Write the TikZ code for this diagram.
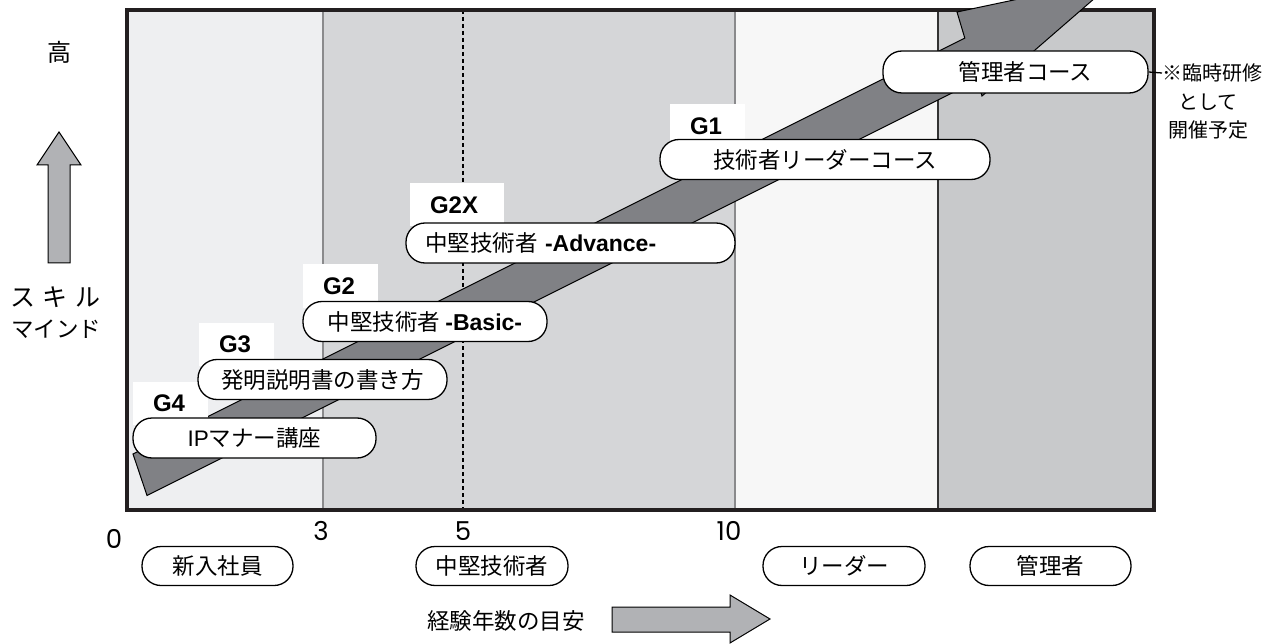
\documentclass[tikz,border=0pt]{standalone}
\usepackage{fontspec}
\setmainfont{Noto Sans CJK JP}
\newfontfamily\lat{Liberation Sans}
\newfontfamily\numf{Poppins}
\definecolor{bandA}{HTML}{EEEFF1}
\definecolor{bandB}{HTML}{D5D6D8}
\definecolor{bandC}{HTML}{F7F7F7}
\definecolor{bandD}{HTML}{C8C9CB}
\definecolor{arrowDark}{HTML}{808185}
\definecolor{arrowLight}{HTML}{B1B2B5}
\definecolor{frameC}{HTML}{231F20}
\definecolor{divC}{HTML}{8A8A8C}
\newcommand\latb[1]{{\lat\bfseries\fontsize{23}{27}\selectfont #1}}
\begin{document}
\begin{tikzpicture}[x=1pt,y=-1pt,
  divider/.style={draw=divC,line width=1.2pt},
  dashline/.style={draw=black,line width=1.1pt,dash pattern=on 4pt off 3pt},
  frameline/.style={draw=frameC,line width=4pt},
  bigarrow/.style={fill=arrowDark,draw=black,line width=1pt,line join=miter},
  smallarrow/.style={fill=arrowLight,draw=black,line width=1pt},
  pill/.style={draw=black,line width=1.3pt,fill=white,rounded corners=19pt,
    minimum height=40pt,inner sep=0pt,font=\fontsize{22.5}{27}\selectfont},
  gbox/.style={fill=white,inner xsep=20pt,inner ysep=0pt,minimum height=43pt,
    align=left,font=\lat\bfseries\fontsize{24}{28}\selectfont},
  plain/.style={inner sep=0pt,font=\fontsize{22.5}{26}\selectfont},
  numlab/.style={inner sep=0pt,font=\numf\fontsize{26}{30}\selectfont},
  note/.style={inner sep=0pt,font=\fontsize{20}{24}\selectfont,anchor=west}
]
\useasboundingbox (0,0) rectangle (1287,644);
\clip (0,0) rectangle (1287,644);
% bands
\fill[bandA] (127,10) rectangle (323,510);
\fill[bandB] (323,10) rectangle (735,510);
\fill[bandC] (735,10) rectangle (938,510);
\fill[bandD] (938,10) rectangle (1154,510);
\draw[divider] (323,10) -- (323,510);
\draw[divider] (735,10) -- (735,510);
\draw[divider,draw=black!80] (938,10) -- (938,510);
\draw[dashline] (463,10) -- (463,510);
\draw[frameline] (127,10) rectangle (1154,510);
% big arrow
\filldraw[bigarrow] (133,454) -- (964.8,38.1) -- (957,12) -- (1118,-22) -- (982,96) -- (977.3,80.3) -- (147,495.5) -- cycle;
% G label boxes
\node[gbox,text width=35pt] (g4) at (170.5,403.5) {G4};
\node[gbox,text width=35pt] (g3) at (236.5,344) {G3};
\node[gbox,text width=35pt] (g2) at (340.5,286) {G2};
\node[gbox,text width=54pt] (g2x) at (457,205) {G2X};
\node[gbox,text width=35pt] (g1) at (707.5,126) {G1};
% course pills
\node[pill,minimum width=243pt] (p4) at (254.5,438) {{\lat IP}マナー講座};
\node[pill,minimum width=249pt] (p3) at (322.5,379.5) {発明説明書の書き方};
\node[pill,minimum width=244pt] (p2) at (425,321.5) {中堅技術者 \latb{-Basic-}};
\node[pill,text width=291pt,inner xsep=19pt,align=left] (p2x) at (570.5,243) {中堅技術者 \latb{-Advance-}};
\node[pill,minimum width=330pt] (p1) at (825,159.5) {技術者リーダーコース};
\node[pill,minimum width=265pt,minimum height=42pt] (pk) at (1015.5,72) {\hspace*{20pt}管理者コース};
% note
\node[note] (n1) at (1162,73) {※臨時研修};
\node[note] (n2) at (1178,102) {として};
\node[note] (n3) at (1168,130) {開催予定};
\draw[line width=1.3pt] (pk.east) -- (n1.west);
% left axis
\node[plain,font=\fontsize{24}{28}\selectfont] (hi) at (59,52) {高};
\filldraw[smallarrow] (59,132) -- (81,165) -- (70,165) -- (70,263) -- (48,263) -- (48,165) -- (37,165) -- cycle;
\node[plain,font=\fontsize{25}{29}\selectfont] (sk) at (55,297) {{\spaceskip=0.3em ス キ ル}};
\node[plain] (md) at (56,329) {マインド};
% numbers
\node[numlab] (y0) at (114,539) {0};
\node[numlab] (y3) at (321,531) {3};
\node[numlab] (y5) at (463,531) {5};
\node[numlab] (y10) at (729,531) {10};
% stage pills
\node[pill,minimum width=151pt,minimum height=39pt] (s1) at (217.5,566) {新入社員};
\node[pill,minimum width=152pt,minimum height=39pt] (s2) at (492,566) {中堅技術者};
\node[pill,minimum width=162pt,minimum height=39pt] (s3) at (844,566) {リーダー};
\node[pill,minimum width=161pt,minimum height=39pt] (s4) at (1050.5,566) {管理者};
% bottom
\node[plain] (exp) at (506,621) {経験年数の目安};
\filldraw[smallarrow] (612,607) -- (730,607) -- (730,595) -- (770,619) -- (730,643) -- (730,632) -- (612,632) -- cycle;
\end{tikzpicture}
\end{document}
